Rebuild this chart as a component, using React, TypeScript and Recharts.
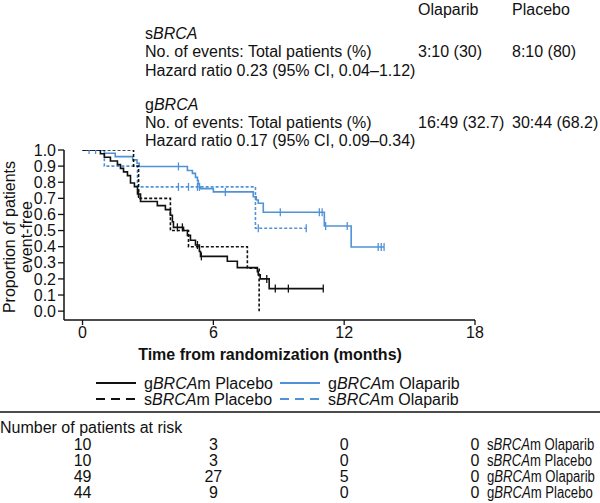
import React from 'react';
import { LineChart, Line, XAxis, YAxis } from 'recharts';

// ---- Kaplan-Meier data (time in months, proportion event-free, censor flag) ----
const gOlaparibTime = [0, 0.3, 0.6, 1.0, 1.5, 2.3, 2.5, 2.6, 4.4, 4.81, 5.04, 5.18, 5.27, 5.31, 5.36, 5.41, 6.0, 6.55, 7.83, 7.97, 8.06, 8.29, 9.07, 10.86, 10.99, 11.09, 11.15, 12.14, 12.32, 13.56, 13.7, 13.83];
const gOlaparibSurv = [1, 1, 1, 0.98, 0.959, 0.939, 0.918, 0.898, 0.898, 0.873, 0.855, 0.83, 0.81, 0.79, 0.77, 0.76, 0.74, 0.74, 0.71, 0.69, 0.67, 0.614, 0.614, 0.614, 0.614, 0.528, 0.528, 0.528, 0.398, 0.398, 0.398, 0.398];
const gOlaparibCens = [0, 1, 1, 0, 0, 0, 0, 0, 1, 0, 0, 0, 0, 0, 0, 0, 0, 1, 0, 0, 0, 0, 1, 1, 1, 0, 1, 1, 0, 1, 1, 1];

const gPlaceboTime = [0, 0.82, 1.0, 1.28, 1.6, 1.74, 1.88, 2.06, 2.2, 2.38, 2.52, 2.57, 2.66, 3.43, 3.8, 4.03, 4.12, 4.17, 4.35, 4.58, 4.63, 4.81, 4.95, 5.18, 5.27, 5.36, 5.41, 5.45, 6.64, 7.1, 8.02, 8.06, 8.15, 8.45, 8.56, 8.84, 9.44, 11.04];
const gPlaceboSurv = [1, 0.977, 0.955, 0.932, 0.909, 0.886, 0.864, 0.841, 0.795, 0.773, 0.727, 0.727, 0.68, 0.655, 0.63, 0.595, 0.555, 0.52, 0.52, 0.52, 0.5, 0.47, 0.44, 0.41, 0.41, 0.37, 0.34, 0.34, 0.31, 0.27, 0.245, 0.225, 0.2, 0.2, 0.14, 0.14, 0.14, 0.14];
const gPlaceboCens = [0, 0, 0, 0, 0, 0, 0, 0, 0, 0, 0, 1, 0, 0, 0, 0, 0, 0, 1, 1, 0, 0, 0, 0, 1, 0, 0, 1, 0, 0, 0, 0, 0, 1, 0, 1, 1, 1];

const sOlaparibTime = [0, 1.0, 2.52, 4.4, 4.86, 5.27, 5.36, 7.93, 8.06, 10.26];
const sOlaparibSurv = [1, 0.9, 0.771, 0.771, 0.771, 0.771, 0.771, 0.514, 0.514, 0.514];
const sOlaparibCens = [0, 0, 0, 1, 1, 1, 1, 0, 1, 1];

const sPlaceboTime = [0, 2.34, 2.57, 4.03, 4.86, 7.56, 8.1];
const sPlaceboSurv = [1, 0.9, 0.7, 0.5, 0.4, 0.267, 0];
const sPlaceboCens = [0, 0, 0, 0, 0, 0, 0];

const xTicks = [0, 6, 12, 18];
const yTicks = [0, 0.1, 0.2, 0.3, 0.4, 0.5, 0.6, 0.7, 0.8, 0.9, 1.0];

const riskRows = [
  { label: ['s', 'BRCA', 'm Olaparib'], values: [10, 3, 0, 0] },
  { label: ['s', 'BRCA', 'm Placebo'], values: [10, 3, 0, 0] },
  { label: ['g', 'BRCA', 'm Olaparib'], values: [49, 27, 5, 0] },
  { label: ['g', 'BRCA', 'm Placebo'], values: [44, 9, 0, 0] },
];

const BLUE = '#5092d8';
const INK = '#111';
const FONT = '"Liberation Sans", Arial, Helvetica, sans-serif';

function build(t: number[], s: number[], c: number[]) {
  return t.map((tt, i) => ({ t: tt, s: s[i], c: c[i] }));
}

const gOla = build(gOlaparibTime, gOlaparibSurv, gOlaparibCens);
const gPla = build(gPlaceboTime, gPlaceboSurv, gPlaceboCens);
const sOla = build(sOlaparibTime, sOlaparibSurv, sOlaparibCens);
const sPla = build(sPlaceboTime, sPlaceboSurv, sPlaceboCens);

function censor(color: string) {
  return (props: any) => {
    const { cx, cy, payload, index } = props;
    if (!payload || !payload.c) return <g key={`n${index}`} />;
    return <line key={`c${index}`} x1={cx} x2={cx} y1={cy - 4} y2={cy + 4} stroke={color} strokeWidth={1.3} />;
  };
}

function T({ x, y, children, style }: { x: number; y: number; children: React.ReactNode; style?: React.CSSProperties }) {
  return (
    <div style={{ position: 'absolute', left: x, top: y - 9.5, lineHeight: '19px', fontSize: 16, whiteSpace: 'nowrap', ...style }}>
      {children}
    </div>
  );
}

function Label({ parts }: { parts: string[] }) {
  return (
    <>
      {parts[0]}
      <i>{parts[1]}</i>
      {parts[2]}
    </>
  );
}

export default function App() {
  const plotLeft = 64;
  const plotRight = 475;
  const xOf = (t: number) => plotLeft + ((t + 0.85) / 18.85) * (plotRight - plotLeft);
  const rowY = (r: number) => 444 + r * 16;
  return (
    <div style={{ position: 'absolute', left: 0, top: 0, width: 600, height: 503, background: '#fff', fontFamily: FONT, color: INK, overflow: 'hidden' }}>
      <T x={418} y={9}>Olaparib</T>
      <T x={512} y={9}>Placebo</T>
      <T x={145} y={33}>s<i>BRCA</i></T>
      <T x={145} y={51.5}>No. of events: Total patients (%)</T>
      <T x={418} y={51.5}>3:10 (30)</T>
      <T x={512} y={51.5}>8:10 (80)</T>
      <T x={145} y={70}>Hazard ratio 0.23 (95% CI, 0.04–1.12)</T>
      <T x={145} y={104}>g<i>BRCA</i></T>
      <T x={145} y={122}>No. of events: Total patients (%)</T>
      <T x={418} y={122}>16:49 (32.7)</T>
      <T x={512} y={122}>30:44 (68.2)</T>
      <T x={145} y={140}>Hazard ratio 0.17 (95% CI, 0.09–0.34)</T>

      <div style={{ position: 'absolute', left: 0, top: 0 }}>
        <LineChart width={600} height={503} margin={{ top: 150, right: 125, left: 0, bottom: 153 }}>
          <XAxis
            type="number"
            dataKey="t"
            domain={[-0.85, 18]}
            ticks={xTicks}
            interval={0}
            allowDataOverflow
            height={30}
            tickSize={5}
            axisLine={{ stroke: INK, strokeWidth: 1.5 }}
            tickLine={{ stroke: INK, strokeWidth: 1.3 }}
            tick={{ fill: INK, fontSize: 16, fontFamily: FONT }}
          />
          <YAxis
            type="number"
            dataKey="s"
            domain={[-0.055, 1]}
            ticks={yTicks}
            interval={0}
            allowDataOverflow
            width={64}
            tickSize={6}
            tickFormatter={(v: number) => v.toFixed(1)}
            axisLine={{ stroke: INK, strokeWidth: 1.5 }}
            tickLine={{ stroke: INK, strokeWidth: 1.3 }}
            tick={{ fill: INK, fontSize: 16, fontFamily: FONT }}
          />
          <Line data={gOla} dataKey="s" type="stepAfter" stroke={BLUE} strokeWidth={1.6} dot={censor(BLUE)} activeDot={false} isAnimationActive={false} />
          <Line data={sOla} dataKey="s" type="stepAfter" stroke={BLUE} strokeWidth={1.6} strokeDasharray="3 2" dot={censor(BLUE)} activeDot={false} isAnimationActive={false} />
          <Line data={gPla} dataKey="s" type="stepAfter" stroke={INK} strokeWidth={1.6} dot={censor(INK)} activeDot={false} isAnimationActive={false} />
          <Line data={sPla} dataKey="s" type="stepAfter" stroke={INK} strokeWidth={1.6} strokeDasharray="3 2" dot={censor(INK)} activeDot={false} isAnimationActive={false} />
        </LineChart>
      </div>

      {/* y axis title */}
      <div style={{ position: 'absolute', left: 10 - 100, top: 237 - 10, width: 200, textAlign: 'center', fontSize: 16, lineHeight: '20px', transform: 'rotate(-90deg)' }}>
        Proportion of patients
      </div>
      <div style={{ position: 'absolute', left: 27 - 100, top: 237 - 10, width: 200, textAlign: 'center', fontSize: 16, lineHeight: '20px', transform: 'rotate(-90deg)' }}>
        event-free
      </div>

      {/* x axis title */}
      <div style={{ position: 'absolute', left: 0, width: 540, top: 345, textAlign: 'center', fontSize: 16, fontWeight: 'bold', lineHeight: '20px' }}>
        Time from randomization (months)
      </div>

      {/* legend */}
      <svg style={{ position: 'absolute', left: 0, top: 0 }} width={600} height={503}>
        <line x1={96} x2={136} y1={383} y2={383} stroke={INK} strokeWidth={2} />
        <line x1={280} x2={320} y1={383} y2={383} stroke={BLUE} strokeWidth={2} />
        <line x1={96} x2={136} y1={399} y2={399} stroke={INK} strokeWidth={2} strokeDasharray="9 6" />
        <line x1={280} x2={320} y1={399} y2={399} stroke={BLUE} strokeWidth={2} strokeDasharray="9 6" />
        <line x1={0} x2={600} y1={412} y2={412} stroke={INK} strokeWidth={1.5} />
      </svg>
      <T x={144} y={383}>g<i>BRCA</i>m Placebo</T>
      <T x={328} y={383}>g<i>BRCA</i>m Olaparib</T>
      <T x={144} y={399}>s<i>BRCA</i>m Placebo</T>
      <T x={328} y={399}>s<i>BRCA</i>m Olaparib</T>

      {/* risk table */}
      <T x={0} y={427}>Number of patients at risk</T>
      {riskRows.map((row, r) => (
        <React.Fragment key={r}>
          {row.values.map((v, k) => (
            <div
              key={k}
              style={{ position: 'absolute', left: xOf(xTicks[k]) - 20, width: 40, top: rowY(r) - 9.5, lineHeight: '19px', fontSize: 16, textAlign: 'center' }}
            >
              {v}
            </div>
          ))}
          <div style={{ position: 'absolute', left: 487, top: rowY(r) - 9.5, lineHeight: '19px', fontSize: 16, whiteSpace: 'nowrap', transform: 'scaleX(0.82)', transformOrigin: '0 50%' }}>
            <Label parts={row.label} />
          </div>
        </React.Fragment>
      ))}
    </div>
  );
}
